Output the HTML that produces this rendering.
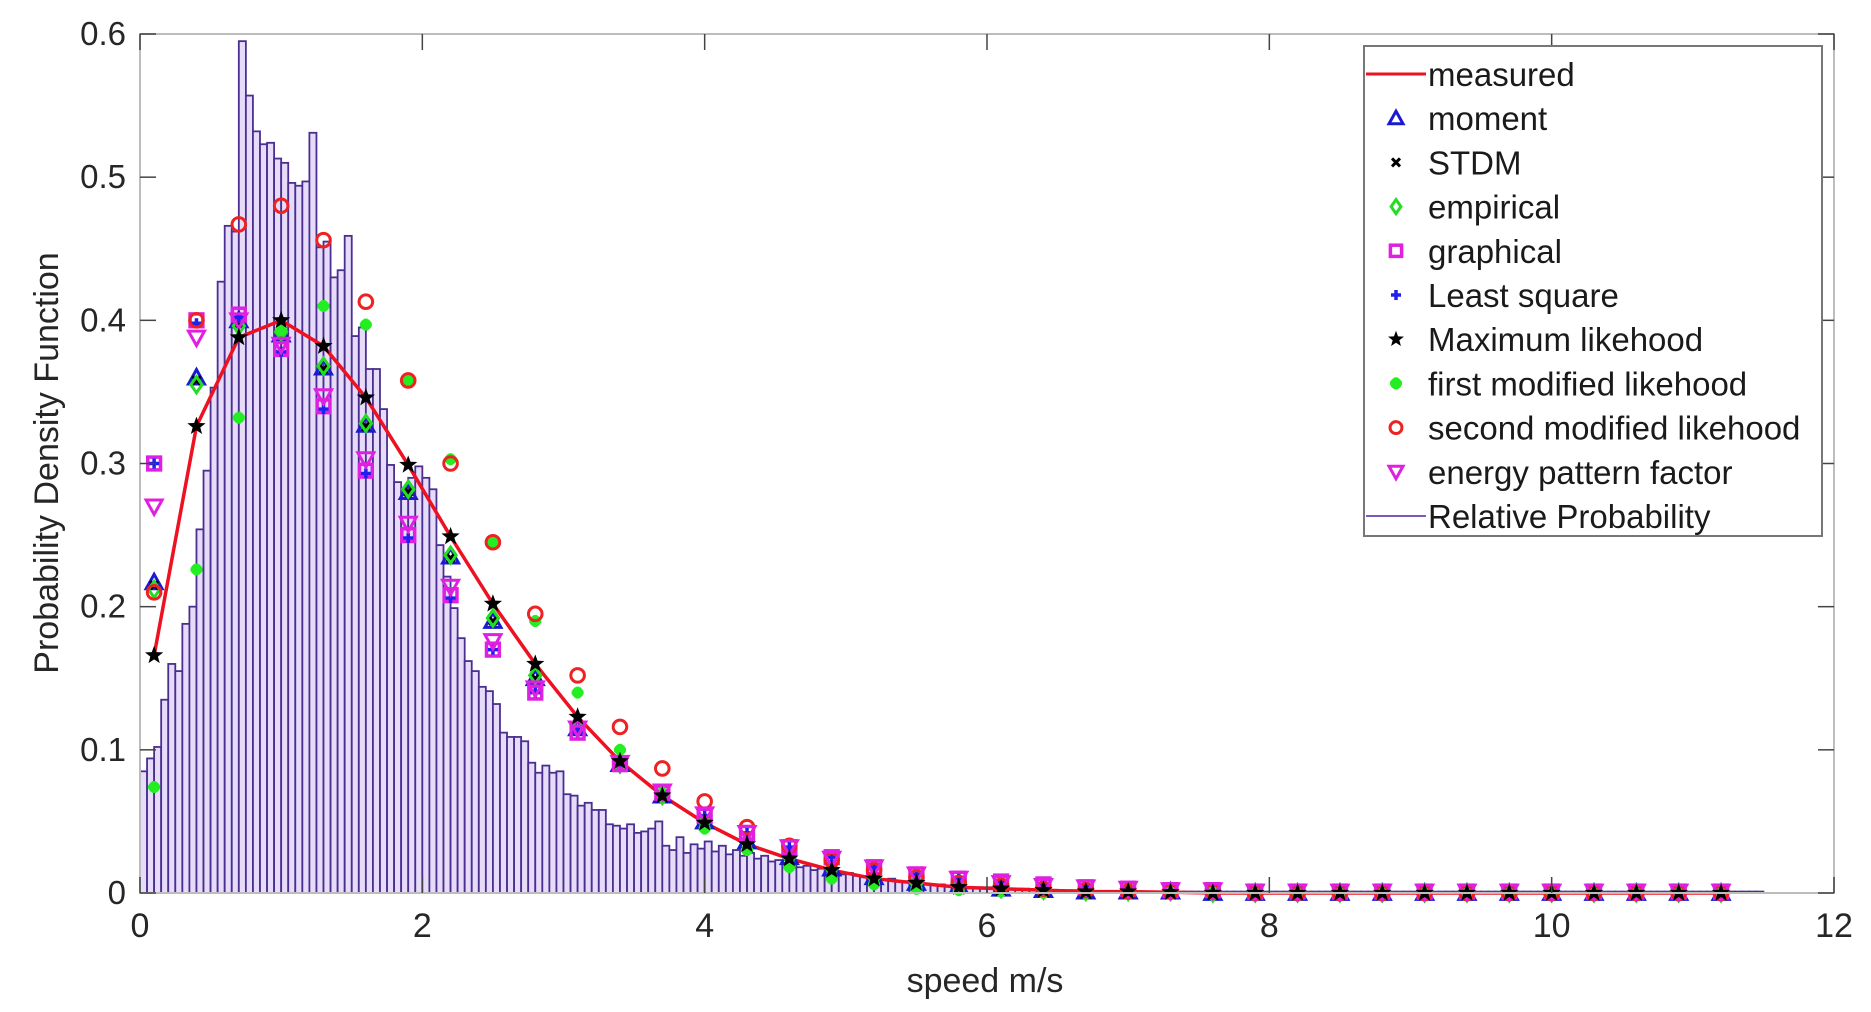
<!DOCTYPE html>
<html><head><meta charset="utf-8"><style>
html,body{margin:0;padding:0;background:#fff;}
svg{display:block;font-family:"Liberation Sans",Arial,sans-serif;}
</style></head><body>
<svg id="chart" width="1871" height="1012" viewBox="0 0 1871 1012" xmlns="http://www.w3.org/2000/svg">
<rect x="0" y="0" width="1871" height="1012" fill="#fff"/>
<g id="hist"></g>
<g id="series"></g>
<g id="axes"></g>
<g id="legend"></g>
</svg>
<script>
// ---- data ----
const histStart = 0;
const histBinWidth = 0.05;
const histValues = [
0.085,0.094,0.102,0.135,0.160,0.155,0.188,0.200,0.254,0.295,0.353,0.427,0.466,0.462,0.595,0.557,0.532,0.523,0.524,0.513,
0.510,0.496,0.494,0.497,0.531,0.451,0.455,0.430,0.435,0.459,0.389,0.395,0.366,0.366,0.338,0.299,0.287,0.280,0.290,0.298,
0.290,0.282,0.243,0.221,0.199,0.178,0.162,0.155,0.144,0.141,0.132,0.112,0.109,0.109,0.106,0.091,0.084,0.089,0.084,0.085,
0.069,0.068,0.061,0.063,0.058,0.058,0.048,0.047,0.045,0.048,0.042,0.043,0.045,0.050,0.033,0.030,0.039,0.028,0.034,0.031,
0.036,0.029,0.033,0.027,0.030,0.026,0.028,0.024,0.026,0.022,0.023,0.020,0.021,0.018,0.019,0.016,0.017,0.015,0.014,0.013,
0.014,0.012,0.011,0.011,0.010,0.009,0.010,0.008,0.008,0.007,0.007,0.006,0.006,0.006,0.005,0.005,0.005,0.004,0.004,0.004,
0.004,0.003,0.003,0.003,0.003,0.003,0.002,0.002,0.002,0.002,0.002,0.002,0.002,0.002,0.002,0.001,0.001,0.001,0.001,0.001,
0.001,0.001,0.001,0.001,0.001,0.001,0.001,0.001,0.001,0.001,0.001,0.001,0.001,0.001,0.001,0.001,0.001,0.001,0.001,0.001,
0.001,0.001,0.001,0.001,0.001,0.001,0.001,0.001,0.001,0.001,0.001,0.001,0.001,0.001,0.001,0.001,0.001,0.001,0.001,0.001,
0.001,0.001,0.001,0.001,0.001,0.001,0.001,0.001,0.001,0.001,0.001,0.001,0.001,0.001,0.001,0.001,0.001,0.001,0.001,0.001,
0.001,0.001,0.001,0.001,0.001,0.001,0.001,0.001,0.001,0.001,0.001,0.001,0.001,0.001,0.001,0.001,0.001,0.001,0.001,0.001,
0.001,0.001,0.001,0.001,0.001,0.001,0.001,0.001,0.001,0.001
];
const speeds = [0.1,0.4,0.7,1.0,1.3,1.6,1.9,2.2,2.5,2.8,3.1,3.4,3.7,4.0,4.3,4.6,4.9,5.2,5.5,5.8,6.1,6.4,6.7,7.0,7.3,7.6,7.9,8.2,8.5,8.8,9.1,9.4,9.7,10.0,10.3,10.6,10.9,11.2];
const measured = [0.166,0.326,0.388,0.400,0.382,0.346,0.299,0.249,0.202,0.160,0.123,0.092,0.068,0.049,0.034,0.024,0.016,0.010,0.007,0.004,0.003,0.002,0.001,0.001,0.0005,0,0,0,0,0,0,0,0,0,0,0,0,0];
const moment = [0.217,0.360,0.400,0.390,0.367,0.327,0.280,0.235,0.190,0.150,0.115,0.090,0.068,0.050,0.036,0.025,0.017,0.011,0.007,0.005,0.003,0.002,0.001,0.001,0.001,0,0,0,0,0,0,0,0,0,0,0,0,0];
const stdm = [0.215,0.358,0.398,0.390,0.366,0.326,0.280,0.234,0.190,0.150,0.115,0.090,0.068,0.050,0.036,0.025,0.017,0.011,0.007,0.005,0.003,0.002,0.001,0.001,0.001,0,0,0,0,0,0,0,0,0,0,0,0,0];
const empirical = [0.212,0.355,0.396,0.392,0.368,0.328,0.282,0.236,0.192,0.152,0.116,0.090,0.068,0.050,0.036,0.025,0.017,0.011,0.007,0.005,0.003,0.002,0.001,0.001,0.001,0,0,0,0,0,0,0,0,0,0,0,0,0];
const graphical = [0.300,0.400,0.404,0.380,0.340,0.295,0.250,0.208,0.170,0.140,0.112,0.090,0.070,0.054,0.042,0.032,0.025,0.018,0.013,0.010,0.008,0.006,0.004,0.003,0.002,0.002,0.001,0.001,0.001,0.001,0.001,0.001,0.001,0.001,0.001,0.001,0.001,0.001];
const leastSquare = [0.300,0.398,0.402,0.378,0.338,0.293,0.248,0.206,0.170,0.140,0.112,0.090,0.070,0.054,0.042,0.032,0.025,0.018,0.013,0.010,0.008,0.006,0.004,0.003,0.002,0.002,0.001,0.001,0.001,0.001,0.001,0.001,0.001,0.001,0.001,0.001,0.001,0.001];
const maxLikelihood = [0.166,0.326,0.388,0.400,0.382,0.346,0.299,0.249,0.202,0.160,0.123,0.092,0.068,0.049,0.034,0.024,0.016,0.010,0.007,0.004,0.003,0.002,0.001,0.001,0.0005,0,0,0,0,0,0,0,0,0,0,0,0,0];
const firstModified = [0.074,0.226,0.332,0.393,0.410,0.397,0.358,0.303,0.245,0.190,0.140,0.100,0.070,0.045,0.030,0.018,0.010,0.006,0.003,0.002,0.001,0,0,0,0,0,0,0,0,0,0,0,0,0,0,0,0,0];
const secondModified = [0.210,0.400,0.467,0.480,0.456,0.413,0.358,0.300,0.245,0.195,0.152,0.116,0.087,0.064,0.046,0.033,0.023,0.016,0.011,0.007,0.005,0.003,0.002,0.001,0.001,0.001,0,0,0,0,0,0,0,0,0,0,0,0];
const energyPattern = [0.270,0.388,0.400,0.383,0.347,0.303,0.258,0.214,0.176,0.143,0.115,0.091,0.071,0.055,0.042,0.032,0.024,0.018,0.013,0.010,0.007,0.005,0.004,0.003,0.002,0.002,0.001,0.001,0.001,0.001,0.001,0.001,0.001,0.001,0.001,0.001,0.001,0.001];
const xTicks = [0,2,4,6,8,10,12];
const yTicks = [0,0.1,0.2,0.3,0.4,0.5,0.6];
const yTickLabels = ["0","0.1","0.2","0.3","0.4","0.5","0.6"];
const legendLabels = ["measured","moment","STDM","empirical","graphical","Least square","Maximum likehood","first modified likehood","second modified likehood","energy pattern factor","Relative Probability"];

// ---- layout ----
const L=140,R=1834,T=34,B=893;
const sx=v=>L+(v-0)/(12-0)*(R-L);
const sy=v=>B-(v-0)/(0.6-0)*(B-T);
const NS="http://www.w3.org/2000/svg";
function mk(tag,parent,attrs){const e=document.createElementNS(NS,tag);for(const k in attrs)e.setAttribute(k,attrs[k]);parent.appendChild(e);return e;}

// histogram
const hist=document.getElementById('hist');
histValues.forEach((v,i)=>{
  const x0=sx(histStart+i*histBinWidth), x1=sx(histStart+(i+1)*histBinWidth);
  const r=mk('rect',hist,{x:x0,y:sy(v),width:x1-x0,height:B-sy(v),fill:'#e6dcfa',stroke:'#4a2f90','stroke-width':1.8});
  
  
});

// markers
const ser=document.getElementById('series');
function marker(g,type,cx,cy,s){
  let e;
  if(type==='tri'){e=mk('polygon',g,{points:`${cx},${cy-s} ${cx-s},${cy+s*0.8} ${cx+s},${cy+s*0.8}`,fill:'none',stroke:'#1a1ad0','stroke-width':3});}
  else if(type==='x'){e=mk('path',g,{d:`M${cx-4},${cy-4}L${cx+4},${cy+4}M${cx+4},${cy-4}L${cx-4},${cy+4}`,stroke:'#000','stroke-width':3});}
  else if(type==='dia'){e=mk('polygon',g,{points:`${cx},${cy-s} ${cx+s*0.7},${cy} ${cx},${cy+s} ${cx-s*0.7},${cy}`,fill:'none',stroke:'#22dd22','stroke-width':3});}
  else if(type==='sq'){e=mk('rect',g,{x:cx-s*0.8,y:cy-s*0.8,width:s*1.6,height:s*1.6,fill:'none',stroke:'#e020e0','stroke-width':3.5});}
  else if(type==='plus'){e=mk('path',g,{d:`M${cx-5},${cy}L${cx+5},${cy}M${cx},${cy-5}L${cx},${cy+5}`,stroke:'#2020ee','stroke-width':3.5});}
  else if(type==='star'){let p='';for(let k=0;k<10;k++){const a=-Math.PI/2+k*Math.PI/5,rr=k%2?s*0.5:s*1.2;p+=`${cx+rr*Math.cos(a)},${cy+rr*Math.sin(a)} `;}e=mk('polygon',g,{points:p,fill:'#000'});}
  else if(type==='ast'){e=mk('path',g,{d:`M${cx-6},${cy}L${cx+6},${cy}M${cx},${cy-6}L${cx},${cy+6}M${cx-4},${cy-4}L${cx+4},${cy+4}M${cx+4},${cy-4}L${cx-4},${cy+4}`,stroke:'#22ee22','stroke-width':4});}
  else if(type==='circ'){e=mk('circle',g,{cx:cx,cy:cy,r:s*0.85,fill:'none',stroke:'#ee2222','stroke-width':3});}
  else if(type==='dtri'){e=mk('polygon',g,{points:`${cx-s},${cy-s*0.8} ${cx+s},${cy-s*0.8} ${cx},${cy+s}`,fill:'none',stroke:'#e020e0','stroke-width':3});}
  return e;
}
// measured line
const mline=mk('polyline',ser,{points:speeds.map((s,i)=>`${sx(s)},${sy(measured[i])}`).join(' '),fill:'none',stroke:'#ee1122','stroke-width':3.5});


const seriesDefs=[
 ['moment-series',moment,'tri'],['stdm-series',stdm,'x'],['empirical-series',empirical,'dia'],
 ['graphical-series',graphical,'sq'],['least-square-series',leastSquare,'plus'],
 ['first-modified-series',firstModified,'ast'],['second-modified-series',secondModified,'circ'],
 ['energy-pattern-series',energyPattern,'dtri'],['max-likelihood-series',maxLikelihood,'star']
];
seriesDefs.forEach(([name,vals,type])=>{
  const g=mk('g',ser,{});
  
  
  vals.forEach((v,i)=>{const m=marker(g,type,sx(speeds[i]),sy(v),8);
    
    });
});

// axes
const ax=document.getElementById('axes');
mk('rect',ax,{x:L,y:T,width:R-L,height:B-T,fill:'none',stroke:'#bdbdbd','stroke-width':2});
xTicks.forEach(t=>{
  const x=sx(t);
  mk('line',ax,{x1:x,y1:B,x2:x,y2:B-16,stroke:'#444','stroke-width':1.5});
  mk('line',ax,{x1:x,y1:T,x2:x,y2:T+16,stroke:'#444','stroke-width':1.5});
  const tx=mk('text',ax,{x:x,y:B+44,'text-anchor':'middle','font-size':34,fill:'#262626'});tx.textContent=t;
  
  
});
yTicks.forEach((t,i)=>{
  const y=sy(t);
  mk('line',ax,{x1:L,y1:y,x2:L+16,y2:y,stroke:'#444','stroke-width':1.5});
  mk('line',ax,{x1:R,y1:y,x2:R-16,y2:y,stroke:'#444','stroke-width':1.5});
  const tx=mk('text',ax,{x:L-14,y:y+11,'text-anchor':'end','font-size':33,fill:'#262626'});tx.textContent=yTickLabels[i];
  
  
});
const xl=mk('text',ax,{x:985,y:992,'text-anchor':'middle','font-size':34,fill:'#262626'});xl.textContent='speed m/s';


const yl=mk('text',ax,{x:0,y:0,'text-anchor':'middle','font-size':34,fill:'#262626',transform:'translate(58,463) rotate(-90)'});yl.textContent='Probability Density Function';



// legend
const lg=document.getElementById('legend');
mk('rect',lg,{x:1364,y:46,width:458,height:490,fill:'#fff',stroke:'#777','stroke-width':2});
const legTypes=['line-red','tri','x','dia','sq','plus','star','ast','circ','dtri','line-purple'];
legendLabels.forEach((lab,i)=>{
  const y=74+i*44.2;
  const g=mk('g',lg,{});
  
  
  const t=legTypes[i];
  if(t==='line-red') mk('line',g,{x1:1366,y1:y,x2:1426,y2:y,stroke:'#ee1122','stroke-width':3});
  else if(t==='line-purple') mk('line',g,{x1:1366,y1:y,x2:1426,y2:y,stroke:'#7a5cb8','stroke-width':2});
  else marker(g,t,1396,y,7);
  const tx=mk('text',g,{x:1428,y:y+12,'font-size':33,fill:'#1a1a1a'});tx.textContent=lab;
});
</script>
</body></html>
